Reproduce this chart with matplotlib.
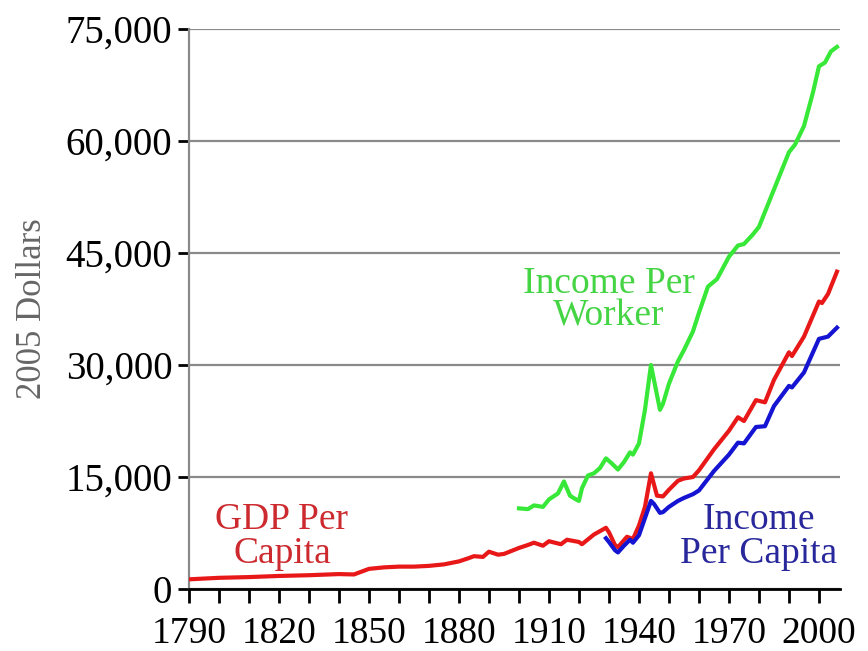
import matplotlib.pyplot as plt
import numpy as np

plt.rcParams['font.family'] = ['Liberation Serif', 'DejaVu Serif']

# GDP per capita (2005 dollars)
gdp_years = [1790, 1800, 1810, 1820, 1830, 1840, 1845, 1850, 1855, 1860, 1865, 1870,
             1875, 1880, 1883, 1885, 1888, 1890, 1893, 1895, 1900, 1903, 1905, 1908,
             1910, 1914, 1916, 1920, 1921, 1925, 1929, 1930, 1932, 1933, 1936, 1938,
             1940, 1942, 1944, 1946, 1948, 1950, 1953, 1955, 1958, 1960, 1965, 1970,
             1973, 1975, 1979, 1982, 1985, 1990, 1991, 1995, 2000, 2001, 2003, 2005, 2006]
gdp_vals = [1300, 1500, 1600, 1750, 1850, 2000, 1950, 2700, 2900, 3000, 3000, 3100,
            3300, 3700, 4100, 4400, 4300, 5000, 4600, 4700, 5500, 5900, 6200, 5800,
            6400, 6000, 6600, 6300, 6000, 7300, 8200, 7600, 5900, 5600, 7000, 6700,
            8500, 11000, 15500, 12500, 12400, 13300, 14500, 14800, 15000, 15900, 18700, 21200,
            23000, 22500, 25300, 25000, 28000, 31700, 31200, 33800, 38500, 38300, 39500, 41500, 42500]

# Income per capita
ipc_years = [1929, 1930, 1932, 1933, 1935, 1937, 1938, 1940, 1942, 1944, 1945, 1947,
             1948, 1950, 1953, 1955, 1958, 1960, 1965, 1970, 1973, 1975, 1979, 1982,
             1985, 1990, 1991, 1995, 2000, 2001, 2003, 2006]
ipc_vals = [6800, 6300, 5200, 4900, 5800, 6600, 6200, 7200, 9500, 11800, 11400, 10200,
            10300, 11000, 11800, 12200, 12700, 13200, 15800, 18000, 19600, 19500, 21700, 21800,
            24500, 27200, 27000, 29000, 33500, 33600, 33800, 35000]

# Income per worker
ipw_years = [1900, 1903, 1905, 1908, 1910, 1913, 1915, 1917, 1919, 1920, 1921, 1923,
             1925, 1927, 1929, 1931, 1933, 1935, 1937, 1938, 1940, 1942, 1944, 1945,
             1947, 1948, 1950, 1953, 1955, 1958, 1960, 1963, 1966, 1970, 1973, 1975,
             1978, 1980, 1985, 1990, 1992, 1995, 1998, 2000, 2002, 2004, 2006]
ipw_vals = [10800, 10700, 11200, 11000, 12000, 12800, 14400, 12500, 12000, 11800, 13500, 15200,
            15500, 16200, 17500, 16800, 16000, 17000, 18300, 18000, 19500, 24000, 30000, 28000,
            24000, 24800, 27500, 30500, 32000, 34500, 37000, 40500, 41500, 44500, 46000, 46200,
            47500, 48500, 53500, 58500, 59500, 62000, 66500, 70000, 70500, 72000, 72600]

fig = plt.figure(figsize=(8.68, 6.51), dpi=100)
ax = fig.add_axes([0.2177, 0.0952, 0.75, 0.8603])

ax.plot(gdp_years, gdp_vals, color='#e81818', lw=3, zorder=3)
ax.plot(ipc_years, ipc_vals, color='#1414d2', lw=3, zorder=4)
ax.plot(ipw_years, ipw_vals, color='#38e838', lw=3, zorder=3)

ax.text(1821, 7000, 'GDP Per\nCapita', color='#cc2a2e', fontsize=27,
        ha='center', va='center', linespacing=0.95)
ax.text(1930, 38700, 'Income Per\nWorker', color='#44d444', fontsize=27,
        ha='center', va='center', linespacing=0.95)
ax.text(1980, 7000, 'Income\nPer Capita', color='#28289c', fontsize=27,
        ha='center', va='center', linespacing=0.95)

ax.set_xlim(1790, 2007)
ax.set_ylim(0, 75000)
ax.set_xticks(np.arange(1790, 2001, 30))
ax.set_xticks(np.arange(1790, 2007, 10), minor=True)
ax.set_yticks(np.arange(0, 75001, 15000))
ax.set_yticklabels([f'{v:,}' for v in range(0, 75001, 15000)])

ax.yaxis.grid(True, color='#8a8a8a', lw=1.6)
ax.set_axisbelow(True)
for s in ['top', 'right']:
    ax.spines[s].set_visible(False)
ax.spines['left'].set_color('#8a8a8a')
ax.spines['left'].set_linewidth(1.6)
ax.spines['bottom'].set_linewidth(2)

ax.tick_params(axis='x', which='both', length=10, width=2, labelsize=27, pad=10)
ax.tick_params(axis='y', length=8, width=2, labelsize=28, pad=4)
ax.set_ylabel('2005 Dollars', fontsize=25, color='#666666', labelpad=12)

plt.savefig('out.png', dpi=100)
